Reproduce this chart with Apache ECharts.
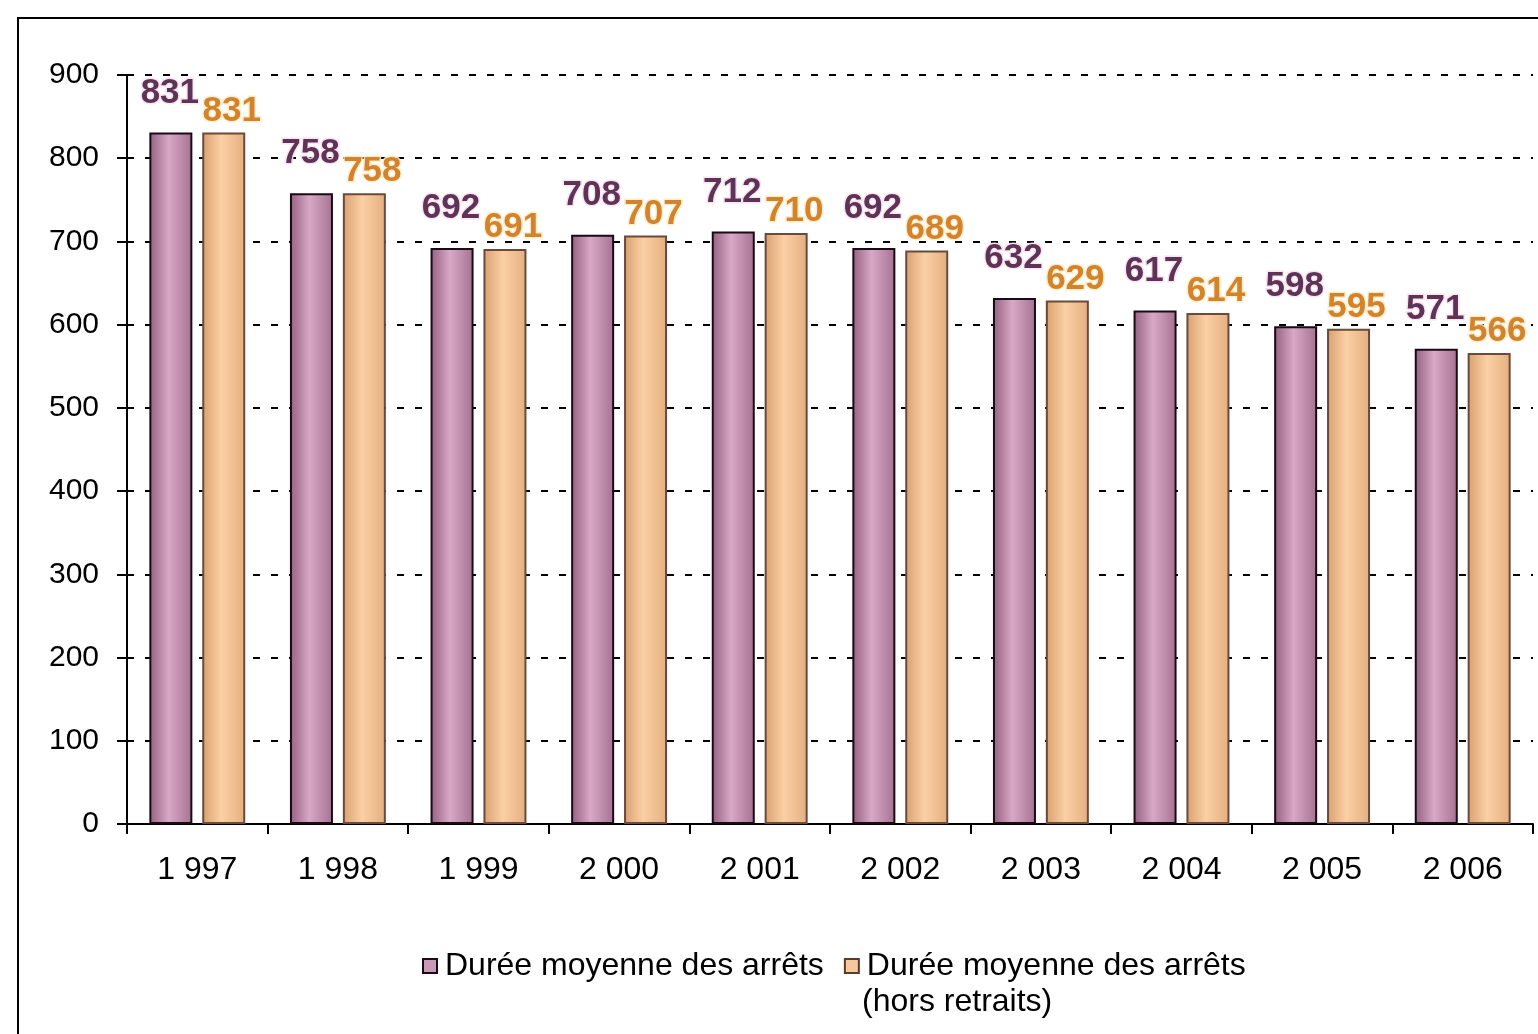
<!DOCTYPE html>
<html>
<head>
<meta charset="utf-8">
<script src="https://cdn.jsdelivr.net/npm/echarts@6/dist/echarts.min.js"></script>
<style>
  html, body { margin: 0; padding: 0; background: #fff; }
  #main { width: 1538px; height: 1034px; }
</style>
</head>
<body>
<div id="main"></div>
<script>
// années et durées moyennes (jours)
var years = ['1 997', '1 998', '1 999', '2 000', '2 001', '2 002', '2 003', '2 004', '2 005', '2 006'];
var dureeMoy = [831, 758, 692, 708, 712, 692, 632, 617, 598, 571];
var dureeHorsRetraits = [831, 758, 691, 707, 710, 689, 629, 614, 595, 566];
var yTicks = [0, 100, 200, 300, 400, 500, 600, 700, 800, 900];

var nom1 = 'Durée moyenne des arrêts';
var nom2 = 'Durée moyenne des arrêts (hors retraits)';

function barGrad(c1, c2, c3) {
  return new echarts.graphic.LinearGradient(0, 0, 1, 0, [
    { offset: 0, color: c1 },
    { offset: 0.45, color: c2 },
    { offset: 1, color: c3 }
  ]);
}

var chart = echarts.init(document.getElementById('main'));

var option = {
  backgroundColor: '#fff',
  animation: false,
  textStyle: { fontFamily: 'Liberation Sans, Arial, sans-serif' },
  grid: { left: 127, right: 5, top: 75, bottom: 210 },
  graphic: [{
    type: 'rect',
    shape: { x: 18, y: 18, width: 1560, height: 1060 },
    style: { fill: 'none', stroke: '#000', lineWidth: 2 },
    silent: true
  }, {
    // 2e ligne de la légende
    type: 'text',
    left: 862,
    top: 986,
    style: { text: '(hors retraits)', fontSize: 32, fill: '#000', fontFamily: 'Liberation Sans, Arial, sans-serif' },
    silent: true
  }],
  legend: {
    left: 417,
    top: 945,
    itemGap: 20,
    itemWidth: 14,
    itemHeight: 14,
    icon: 'rect',
    textStyle: { fontSize: 32, color: '#000', padding: [0, 0, 0, 3] },
    formatter: function (name) { return name === nom2 ? nom1 : name; },
    data: [
      { name: nom1, itemStyle: { color: '#c89ab4', borderColor: '#1a0a14', borderWidth: 2 } },
      { name: nom2, itemStyle: { color: '#f6c89c', borderColor: '#5a3a2a', borderWidth: 2 } }
    ]
  },
  xAxis: {
    type: 'category',
    data: years,
    axisLine: { lineStyle: { color: '#000', width: 2 } },
    axisTick: { show: true, length: 10, lineStyle: { color: '#000', width: 2 } },
    axisLabel: { fontSize: 32, color: '#000', margin: 30 }
  },
  yAxis: {
    type: 'value',
    min: 0,
    max: 900,
    interval: 100,
    axisLine: { show: true, lineStyle: { color: '#000', width: 2 } },
    axisTick: { show: true, length: 10, lineStyle: { color: '#000', width: 2 } },
    axisLabel: {
      fontSize: 30, color: '#000', margin: 28,
      formatter: function (v) { return yTicks.indexOf(v) >= 0 ? String(v) : ''; }
    },
    splitLine: { show: true, lineStyle: { color: '#000', type: [7, 11], width: 2 } }
  },
  series: [{
    name: nom1,
    type: 'bar',
    data: dureeMoy,
    barWidth: 43,
    barGap: '23%',
    itemStyle: {
      color: barGrad('#94607f', '#d8a8c6', '#a47290'),
      borderColor: '#1a0a14',
      borderWidth: 2
    },
    label: {
      show: true,
      position: 'top',
      distance: 22,
      offset: [-1, 0],
      fontSize: 35,
      fontWeight: 'bold',
      color: '#5e3456',
      textBorderColor: 'rgba(250,225,240,0.9)',
      textBorderWidth: 3
    }
  }, {
    name: nom2,
    type: 'bar',
    data: dureeHorsRetraits,
    barWidth: 43,
    itemStyle: {
      color: barGrad('#d8a070', '#fbd0a4', '#e4ae80'),
      borderColor: '#6a4a3a',
      borderWidth: 2
    },
    label: {
      show: true,
      position: 'top',
      distance: 4,
      offset: [8, 0],
      fontSize: 35,
      fontWeight: 'bold',
      color: '#d2832c',
      textBorderColor: 'rgba(255,236,200,0.9)',
      textBorderWidth: 3
    }
  }]
};

chart.setOption(option);
</script>
</body>
</html>
